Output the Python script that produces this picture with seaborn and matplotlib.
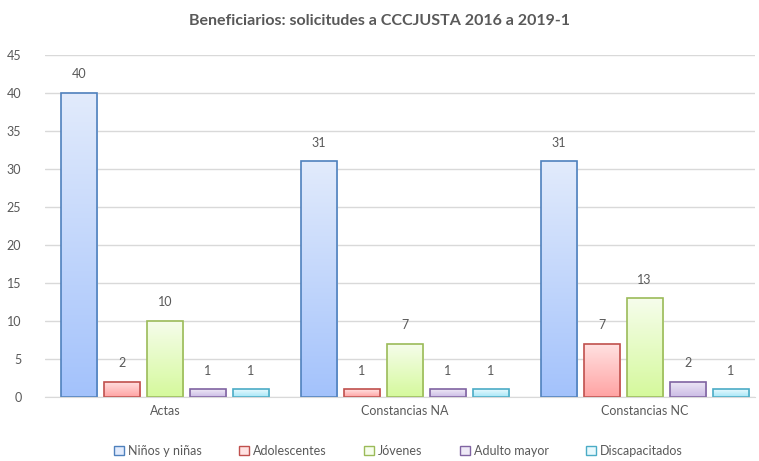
import numpy as np
import pandas as pd
import seaborn as sns
import matplotlib.pyplot as plt
from matplotlib.colors import LinearSegmentedColormap
from matplotlib.patches import Patch

categories = ["Actas", "Constancias NA", "Constancias NC"]
groups = ["Niños y niñas", "Adolescentes", "Jóvenes", "Adulto mayor", "Discapacitados"]
ninos = [40, 31, 31]
adolescentes = [2, 1, 7]
jovenes = [10, 7, 13]
adulto_mayor = [1, 1, 2]
discapacitados = [1, 1, 1]

edge_colors = ["#4f81bd", "#c0504d", "#9bbb59", "#8064a2", "#4bacc6"]
top_colors = ["#e2ebfc", "#ffe2e2", "#f6fdec", "#eee9f6", "#e8f9fd"]
bottom_colors = ["#a3c2fb", "#ffa3a3", "#d5f99c", "#cbbbe5", "#a6e7f8"]

rows = []
for g, vals in zip(groups, [ninos, adolescentes, jovenes, adulto_mayor, discapacitados]):
    for c, v in zip(categories, vals):
        rows.append({"cat": c, "grupo": g, "valor": v})
df = pd.DataFrame(rows)

sns.set_style("white")
plt.rcParams['font.family'] = ['Lato', 'DejaVu Sans']
fig = plt.figure(figsize=(7.59, 4.61), dpi=100)
ax = fig.add_axes([45 / 759, 64 / 461, 710 / 759, 342 / 461])

sns.barplot(data=df, x="cat", y="valor", hue="grupo", hue_order=groups,
            palette=edge_colors, width=0.896, gap=0.16, ax=ax, legend=False)

ax.set_ylim(0, 45)
ax.set_xlim(-0.5, 2.46)
ax.set_yticks(range(0, 46, 5))
ax.yaxis.grid(True, color="#d9d9d9", linewidth=1)
ax.set_axisbelow(True)
for s in ["top", "right", "left"]:
    ax.spines[s].set_visible(False)
ax.spines["bottom"].set_color("#d9d9d9")
ax.tick_params(axis="both", length=0, labelsize=9, colors="#595959")
ax.tick_params(axis="y", pad=17)
ax.tick_params(axis="x", pad=6)
ax.set_xlabel("")
ax.set_ylabel("")

# gradient fill per bar
for i, container in enumerate(ax.containers):
    cmap = LinearSegmentedColormap.from_list("g", [bottom_colors[i], top_colors[i]])
    for bar in container:
        x0, y0 = bar.get_x(), bar.get_y()
        w, h = bar.get_width(), bar.get_height()
        bar.set_facecolor("none")
        bar.set_edgecolor(edge_colors[i])
        bar.set_linewidth(1.2)
        grad = np.linspace(0, 1, 256).reshape(-1, 1)
        im = ax.imshow(grad, cmap=cmap, origin="lower", aspect="auto",
                       extent=[x0, x0 + w, y0, y0 + h], zorder=bar.get_zorder() - 0.1)
        im.set_clip_path(bar)
    ax.bar_label(container, padding=9, fontsize=9, color="#595959")

ax.set_xlim(-0.5, 2.46)
ax.set_ylim(0, 45)

handles = [Patch(facecolor=top_colors[i], edgecolor=edge_colors[i], label=groups[i])
           for i in range(5)]
fig.legend(handles=handles, loc="lower center", ncol=5, frameon=False,
           bbox_to_anchor=(0.525, -0.015), fontsize=9, labelcolor="#595959",
           handlelength=0.8, handleheight=0.8, handletextpad=0.3, columnspacing=3.0)

fig.suptitle("Beneficiarios: solicitudes a CCCJUSTA 2016 a 2019-1", y=0.97,
             fontsize=11.5, fontweight="bold", color="#595959")

fig.savefig("out.png", dpi=100)
